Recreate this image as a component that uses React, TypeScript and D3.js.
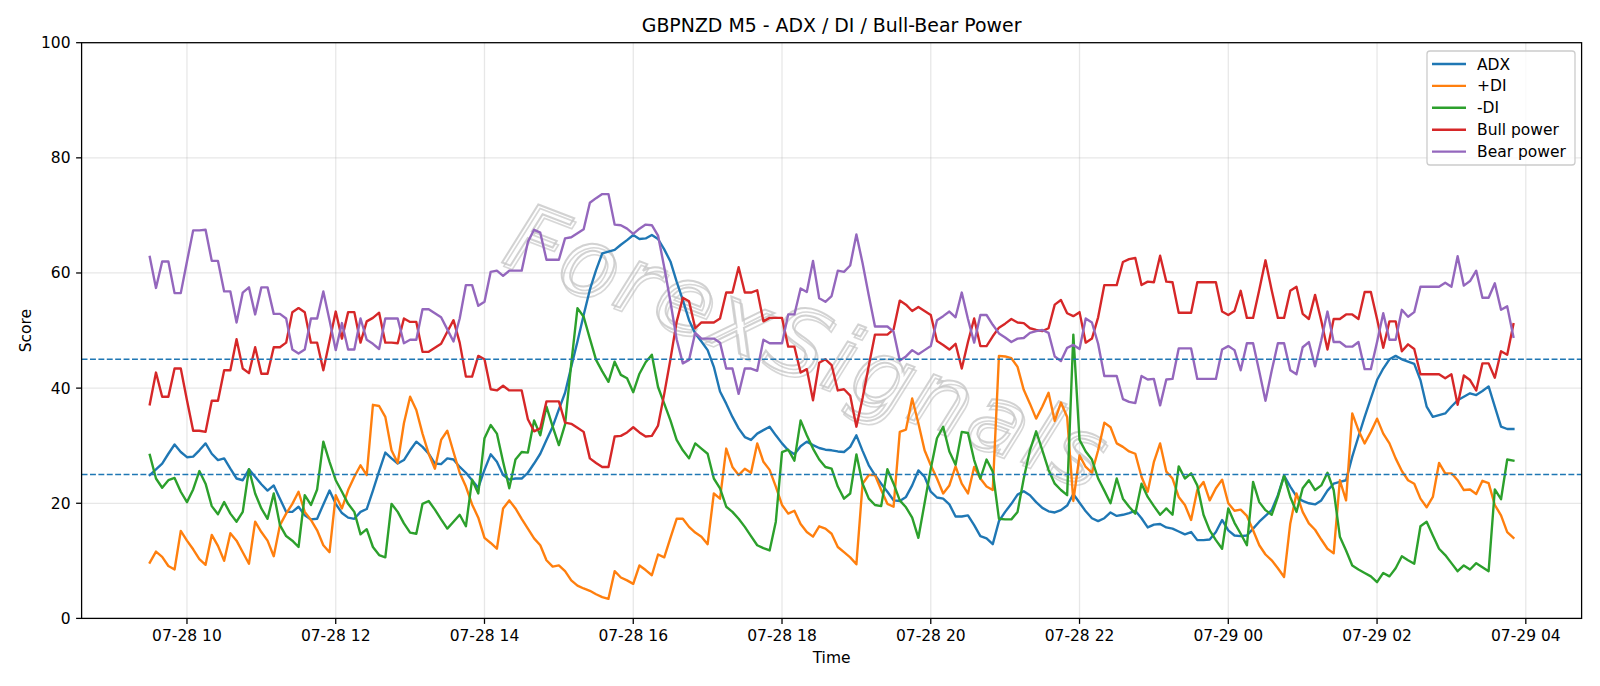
import * as d3 from "d3";

// 5-minute bars starting 07-28 09:30
const START = new Date(2025, 6, 28, 9, 30);
const STEP_MS = 5 * 60 * 1000;

const adx = [
  24.9, 25.9, 26.9, 28.6, 30.2, 28.9, 28.0, 28.1, 29.2, 30.4, 28.6, 27.5, 27.8, 26.0, 24.3, 24.0, 25.9, 24.6, 23.3, 22.2,
  23.1, 20.8, 18.5, 18.5, 19.4, 17.9, 17.2, 17.3, 19.8, 22.2, 19.9, 18.3, 17.5, 17.3, 18.5, 19.0, 22.2, 25.6, 28.8, 27.8,
  26.9, 27.5, 29.2, 30.7, 29.8, 28.6, 26.9, 26.8, 27.8, 27.6, 26.3, 25.3, 24.0, 22.7, 25.8, 28.5, 27.2, 24.9, 24.1, 24.3,
  24.3, 25.3, 26.9, 28.6, 31.0, 33.3, 36.3, 39.2, 43.7, 48.1, 52.7, 57.1, 60.5, 63.4, 63.7, 64.0, 64.9, 65.7, 66.6, 65.9, 66.0, 66.6,
  65.9, 64.1, 62.0, 58.5, 55.3, 51.8, 49.5, 48.1, 46.6, 43.7, 39.4, 37.3, 35.0, 33.0, 31.5, 31.0, 32.1, 32.7, 33.3, 31.8,
  30.4, 29.2, 28.5, 29.9, 30.7, 30.1, 29.6, 29.3, 29.2, 29.0, 28.9, 29.8, 31.8, 29.1, 26.6, 24.9, 23.4, 22.0, 20.5, 20.4, 21.1,
  23.1, 25.7, 24.6, 22.0, 21.0, 20.8, 19.8, 17.7, 17.7, 17.9, 16.2, 14.3, 13.9, 12.9, 16.9, 18.5, 19.9, 21.5, 22.1, 21.4,
  20.2, 19.2, 18.6, 18.4, 18.8, 19.6, 21.6, 20.1, 18.6, 17.4, 16.9, 17.4, 18.4, 17.8, 18.0, 18.3, 18.7, 17.4, 15.8, 16.3, 16.4,
  15.8, 15.6, 15.1, 14.6, 15.0, 13.6, 13.6, 13.7, 15.0, 17.1, 15.3, 14.4, 14.3, 14.4, 15.6, 16.8, 17.8, 18.8, 21.4, 24.8,
  22.9, 21.2, 20.4, 20.0, 19.8, 20.5, 22.2, 23.4, 23.7, 24.0, 28.1, 31.6, 35.0, 38.2, 41.4, 43.4, 45.0, 45.6, 45.0, 44.6, 44.2,
  41.4, 36.8, 35.0, 35.3, 35.6, 36.8, 37.9, 38.5, 39.1, 38.8, 39.5, 40.3, 36.8, 33.3, 32.9, 32.9,
];

const plusDi = [
  9.7, 11.6, 10.7, 9.1, 8.5, 15.2, 13.5, 12.0, 10.3, 9.3, 14.5, 12.6, 10.0, 14.8, 13.5, 11.5, 9.5, 16.8, 15.0, 13.5,
  10.8, 16.2, 18.2, 19.9, 22.0, 18.5, 17.1, 15.3, 12.7, 11.5, 21.4, 19.1, 22.3, 24.6, 26.6, 24.9, 37.1, 36.9, 35.0, 29.2,
  27.0, 33.9, 38.5, 36.2, 32.1, 28.6, 26.0, 31.0, 32.6, 28.9, 25.3, 22.9, 19.8, 17.5, 14.0, 13.1, 12.1, 19.1, 20.5, 19.1,
  17.3, 15.6, 13.9, 12.7, 10.1, 9.0, 9.2, 8.2, 6.6, 5.7, 5.2, 4.8, 4.2, 3.7, 3.4, 8.2, 7.1, 6.6, 6.0, 9.2, 8.4, 7.5,
  11.1, 10.6, 14.0, 17.3, 17.3, 15.9, 14.9, 14.2, 12.9, 21.7, 20.8, 29.5, 26.3, 24.9, 26.0, 25.3, 30.4, 27.2, 25.8, 22.9,
  19.7, 18.2, 18.7, 16.4, 15.0, 14.2, 16.0, 15.6, 14.7, 12.4, 11.5, 10.6, 9.4, 23.4, 24.9, 24.9, 22.3, 19.9, 19.4, 32.4, 32.8,
  38.2, 33.9, 29.2, 26.6, 24.3, 21.7, 23.1, 26.4, 23.4, 21.7, 26.3, 24.3, 22.9, 22.3, 45.6, 45.5, 45.2, 43.7, 39.7, 37.3,
  34.7, 36.8, 39.2, 34.3, 37.5, 35.0, 20.4, 28.3, 26.3, 25.3, 29.2, 34.0, 33.2, 30.4, 29.8, 29.0, 28.6, 24.6, 22.0, 27.2, 30.4,
  25.5, 24.3, 21.1, 19.7, 17.1, 22.3, 23.7, 20.5, 22.6, 24.1, 20.0, 18.7, 18.9, 17.8, 15.3, 12.7, 11.1, 10.1, 8.7, 7.2,
  16.5, 21.7, 18.5, 16.5, 15.4, 13.7, 12.1, 11.3, 24.0, 20.5, 35.6, 32.7, 30.4, 32.4, 34.7, 32.1, 30.4, 27.8, 25.6, 24.0, 23.4,
  20.8, 19.3, 21.1, 27.0, 25.2, 25.2, 24.0, 22.3, 22.4, 21.6, 23.9, 23.5, 19.7, 17.9, 15.0, 14.0,
];

const minusDi = [
  28.4, 24.3, 22.7, 24.0, 24.4, 22.0, 20.2, 22.4, 25.6, 23.4, 19.5, 18.1, 20.2, 18.2, 16.8, 18.5, 25.9, 21.7, 19.1, 17.3,
  21.7, 16.2, 14.3, 13.5, 12.4, 21.4, 19.7, 22.4, 30.7, 27.2, 24.0, 22.0, 19.9, 18.5, 14.6, 15.5, 12.4, 11.0, 10.6, 19.9,
  18.5, 16.5, 14.9, 14.7, 19.9, 20.4, 18.9, 17.2, 15.6, 16.8, 18.0, 16.0, 24.1, 21.7, 31.3, 33.6, 32.1, 27.2, 22.6, 27.6,
  28.9, 28.8, 34.4, 31.8, 36.8, 33.3, 30.1, 33.7, 44.3, 53.9, 52.4, 48.6, 44.9, 42.9, 41.1, 44.6, 42.3, 41.7, 39.3, 42.5, 44.5, 45.8,
  40.2, 37.3, 34.4, 31.0, 29.2, 27.8, 30.4, 29.5, 28.6, 24.3, 22.6, 19.4, 18.5, 17.3, 15.9, 14.3, 12.7, 12.2, 11.8, 16.8,
  28.9, 29.3, 27.4, 34.4, 31.8, 29.5, 27.6, 26.3, 26.0, 22.9, 20.8, 21.7, 28.5, 23.4, 20.8, 19.7, 19.5, 25.9, 23.4, 20.5, 19.3,
  17.5, 14.0, 20.0, 26.0, 31.3, 33.3, 29.0, 26.7, 32.4, 32.2, 27.5, 24.3, 27.6, 25.5, 17.3, 17.2, 17.2, 18.5, 24.3, 29.2,
  32.5, 29.2, 25.8, 23.4, 22.3, 21.4, 49.3, 31.0, 29.0, 27.6, 24.3, 22.2, 20.0, 24.3, 20.8, 19.4, 18.2, 23.4, 21.1, 19.5, 18.0,
  19.1, 18.0, 26.4, 24.3, 25.2, 23.1, 18.0, 15.3, 13.6, 12.1, 19.1, 16.6, 14.7, 12.7, 23.7, 20.2, 18.8, 18.0, 21.1, 24.8,
  21.1, 18.5, 22.6, 24.0, 22.3, 23.1, 25.3, 22.3, 14.2, 11.8, 9.2, 8.5, 7.9, 7.3, 6.3, 7.9, 7.3, 8.7, 10.8, 10.1, 9.5,
  16.0, 16.8, 14.4, 12.1, 11.0, 9.6, 8.2, 9.2, 8.5, 9.6, 8.9, 8.2, 22.4, 20.7, 27.6, 27.4,
];

const bullPower = [
  37.2, 42.7, 38.5, 38.5, 43.4, 43.4, 37.9, 32.6, 32.6, 32.4, 37.8, 37.8, 43.1, 43.1, 48.5, 43.4, 42.6, 47.1, 42.5, 42.5,
  47.1, 47.1, 47.9, 53.2, 53.9, 53.2, 47.9, 47.9, 43.1, 48.2, 53.3, 48.6, 53.2, 53.2, 47.9, 51.6, 52.2, 53.1, 47.9, 47.9,
  47.8, 52.1, 51.5, 51.5, 46.3, 46.3, 47.0, 47.7, 49.8, 51.8, 47.9, 42.0, 42.0, 45.6, 45.0, 39.8, 39.6, 40.4, 39.6, 39.6,
  39.6, 34.6, 32.5, 33.0, 37.7, 37.7, 37.7, 34.0, 33.8, 33.1, 32.4, 27.8, 27.0, 26.3, 26.3, 31.6, 31.7, 32.3, 33.2, 32.3, 31.6, 31.7,
  33.5, 39.0, 45.0, 51.5, 55.7, 55.1, 50.4, 51.4, 51.4, 51.4, 52.1, 56.6, 56.6, 61.0, 56.6, 56.6, 57.0, 51.6, 52.2, 52.2,
  52.2, 47.2, 47.2, 42.7, 43.3, 37.9, 44.4, 45.0, 44.0, 39.6, 39.8, 38.7, 33.3, 38.3, 43.9, 49.3, 49.3, 49.3, 50.2, 55.2, 54.5,
  53.4, 54.1, 53.4, 52.7, 48.2, 47.5, 46.7, 47.7, 43.4, 48.0, 52.1, 47.3, 47.3, 49.0, 50.5, 51.2, 52.0, 51.4, 51.3, 50.4,
  50.1, 49.9, 50.4, 54.5, 55.3, 53.0, 52.5, 53.2, 47.9, 48.6, 52.3, 57.9, 57.9, 57.9, 61.9, 62.4, 62.6, 57.9, 58.5, 58.4, 63.0,
  58.5, 58.4, 53.1, 53.1, 53.1, 58.4, 58.4, 58.4, 58.4, 53.3, 52.7, 53.4, 56.9, 52.2, 52.2, 57.1, 62.2, 57.0, 52.2, 52.2,
  56.9, 57.6, 52.9, 52.0, 56.2, 51.7, 46.7, 52.0, 52.0, 52.8, 52.8, 52.0, 56.7, 56.7, 52.0, 47.0, 51.6, 51.6, 46.4, 47.6, 46.8,
  42.4, 42.4, 42.4, 42.4, 41.7, 42.4, 37.1, 42.2, 41.4, 39.6, 44.3, 44.3, 41.8, 46.4, 45.8, 51.1,
];

const bearPower = [
  62.8, 57.4, 62.0, 62.0, 56.5, 56.5, 62.0, 67.4, 67.4, 67.5, 62.1, 62.1, 56.8, 56.8, 51.4, 56.6, 57.5, 52.8, 57.5, 57.5,
  52.9, 52.9, 52.1, 46.7, 46.0, 46.7, 52.1, 52.1, 56.8, 51.8, 46.6, 51.3, 46.7, 46.7, 52.1, 48.4, 47.7, 46.8, 52.1, 52.1,
  52.1, 47.8, 48.4, 48.4, 53.7, 53.7, 53.0, 52.3, 50.2, 48.1, 52.1, 57.9, 57.9, 54.3, 55.0, 60.2, 60.4, 59.5, 60.4, 60.4,
  60.4, 65.4, 67.5, 67.0, 62.3, 62.3, 62.3, 66.0, 66.2, 66.9, 67.6, 72.2, 73.0, 73.7, 73.7, 68.4, 68.3, 67.7, 66.8, 67.7, 68.4, 68.3,
  66.5, 61.0, 55.0, 48.5, 44.3, 44.9, 49.6, 48.6, 48.6, 48.6, 47.9, 43.4, 43.4, 39.0, 43.4, 43.4, 43.0, 48.4, 47.8, 47.8,
  47.8, 52.8, 52.8, 57.3, 56.7, 62.1, 55.6, 55.0, 56.0, 60.4, 60.2, 61.3, 66.7, 61.7, 56.1, 50.7, 50.7, 50.7, 49.8, 44.8, 45.5,
  46.6, 45.9, 46.6, 47.3, 51.8, 52.5, 53.3, 52.3, 56.6, 52.0, 47.9, 52.7, 52.7, 51.0, 49.5, 48.8, 48.0, 48.6, 48.7, 49.6,
  49.9, 50.1, 49.6, 45.5, 44.7, 47.0, 47.5, 46.8, 52.1, 51.4, 47.7, 42.1, 42.1, 42.1, 38.1, 37.6, 37.4, 42.1, 41.5, 41.6, 37.0,
  41.5, 41.6, 46.9, 46.9, 46.9, 41.6, 41.6, 41.6, 41.6, 46.7, 47.3, 46.6, 43.1, 47.8, 47.8, 42.9, 37.8, 43.0, 47.8, 47.8,
  43.1, 42.4, 47.1, 48.0, 43.8, 48.3, 53.3, 48.0, 48.0, 47.2, 47.2, 48.0, 43.3, 43.3, 48.0, 53.0, 48.4, 48.4, 53.6, 52.4, 53.2,
  57.6, 57.6, 57.6, 57.6, 58.3, 57.6, 62.9, 57.8, 58.6, 60.4, 55.7, 55.7, 58.2, 53.6, 54.2, 48.9,
];

const yTicks = [0, 20, 40, 60, 80, 100];
const levels = [25, 45];

const series = [
  { name: "ADX", color: "#1f77b4", values: adx },
  { name: "+DI", color: "#ff7f0e", values: plusDi },
  { name: "-DI", color: "#2ca02c", values: minusDi },
  { name: "Bull power", color: "#d62728", values: bullPower },
  { name: "Bear power", color: "#9467bd", values: bearPower },
];

const W = 1600;
const H = 686;
const M = { top: 42.7, right: 18.4, bottom: 67.6, left: 81.6 };
const FONT = "DejaVu Sans, sans-serif";

export default function App() {
  const times = adx.map((_, i) => new Date(START.getTime() + i * STEP_MS));
  const t0 = +times[0];
  const t1 = +times[times.length - 1];
  const pad = (t1 - t0) * 0.05;

  const x = d3
    .scaleTime()
    .domain([new Date(t0 - pad), new Date(t1 + pad)])
    .range([M.left, W - M.right]);
  const y = d3.scaleLinear().domain([0, 100]).range([H - M.bottom, M.top]);

  const xTicks = x.ticks(d3.timeHour.every(2));
  const fmt = d3.timeFormat("%m-%d %H");

  const line = d3
    .line<number>()
    .x((_, i) => x(times[i]))
    .y((d) => y(d));

  const x0 = M.left;
  const x1 = W - M.right;
  const y0 = H - M.bottom;
  const y1 = M.top;

  // legend geometry
  const lg = { x: 1427, y: 51, w: 148, h: 114, row: 21.9 };

  return (
    <svg
      width={W}
      height={H}
      viewBox={`0 0 ${W} ${H}`}
      style={{ position: "absolute", left: 0, top: 0, background: "#fff" }}
      fontFamily={FONT}
    >
      <rect width={W} height={H} fill="#fff" />

      {/* grid */}
      <g stroke="#b0b0b0" strokeOpacity={0.3} strokeWidth={1.27}>
        {xTicks.map((t) => (
          <line key={+t} x1={x(t)} x2={x(t)} y1={y1} y2={y0} />
        ))}
        {yTicks.map((v) => (
          <line key={v} x1={x0} x2={x1} y1={y(v)} y2={y(v)} />
        ))}
      </g>

      {/* watermark */}
      <g
        transform="translate(806,352) rotate(21)"
        textAnchor="middle"
        fontSize={92}
        fontStyle="italic"
        letterSpacing={4}
        fill="none"
      >
        <text x={3} y={3} dominantBaseline="middle" stroke="#a8a8a8" strokeWidth={1.6} opacity={0.45}>
          ForexSignals
        </text>
        <text x={0} y={0} dominantBaseline="middle" stroke="#c8c8c8" strokeWidth={2} opacity={0.8}>
          ForexSignals
        </text>
      </g>

      {/* series */}
      <g fill="none" strokeWidth={2.38} strokeLinejoin="round" strokeLinecap="square">
        {series.map((s) => (
          <path key={s.name} d={line(s.values) ?? ""} stroke={s.color} />
        ))}
      </g>

      {/* threshold levels */}
      {levels.map((v) => (
        <line
          key={v}
          x1={x0}
          x2={x1}
          y1={y(v)}
          y2={y(v)}
          stroke="#1f77b4"
          strokeWidth={1.5}
          strokeDasharray="5.9,2.5"
        />
      ))}

      {/* frame */}
      <rect x={x0} y={y1} width={x1 - x0} height={y0 - y1} fill="none" stroke="#000" strokeWidth={1.27} />

      {/* x axis */}
      <g fontSize={15.5} textAnchor="middle">
        {xTicks.map((t) => (
          <g key={+t}>
            <line x1={x(t)} x2={x(t)} y1={y0} y2={y0 + 5.5} stroke="#000" strokeWidth={1.27} />
            <text x={x(t)} y={y0 + 23}>
              {fmt(t)}
            </text>
          </g>
        ))}
      </g>
      <text x={(x0 + x1) / 2} y={663} fontSize={15.5} textAnchor="middle">
        Time
      </text>

      {/* y axis */}
      <g fontSize={15.5} textAnchor="end">
        {yTicks.map((v) => (
          <g key={v}>
            <line x1={x0 - 5.5} x2={x0} y1={y(v)} y2={y(v)} stroke="#000" strokeWidth={1.27} />
            <text x={x0 - 11} y={y(v)} dy="0.35em">
              {v}
            </text>
          </g>
        ))}
      </g>
      <text transform={`translate(31,${(y0 + y1) / 2}) rotate(-90)`} fontSize={15.5} textAnchor="middle">
        Score
      </text>

      {/* title */}
      <text x={(x0 + x1) / 2} y={32} fontSize={18.9} textAnchor="middle">
        GBPNZD M5 - ADX / DI / Bull-Bear Power
      </text>

      {/* legend */}
      <g>
        <rect x={lg.x} y={lg.y} width={lg.w} height={lg.h} rx={3} fill="#fff" fillOpacity={0.8} stroke="#cccccc" strokeWidth={1.3} />
        {series.map((s, i) => {
          const cy = lg.y + 13 + i * lg.row;
          return (
            <g key={s.name}>
              <line x1={lg.x + 5} x2={lg.x + 39} y1={cy} y2={cy} stroke={s.color} strokeWidth={2.38} />
              <text x={lg.x + 50} y={cy} dy="0.36em" fontSize={15.5}>
                {s.name}
              </text>
            </g>
          );
        })}
      </g>
    </svg>
  );
}
